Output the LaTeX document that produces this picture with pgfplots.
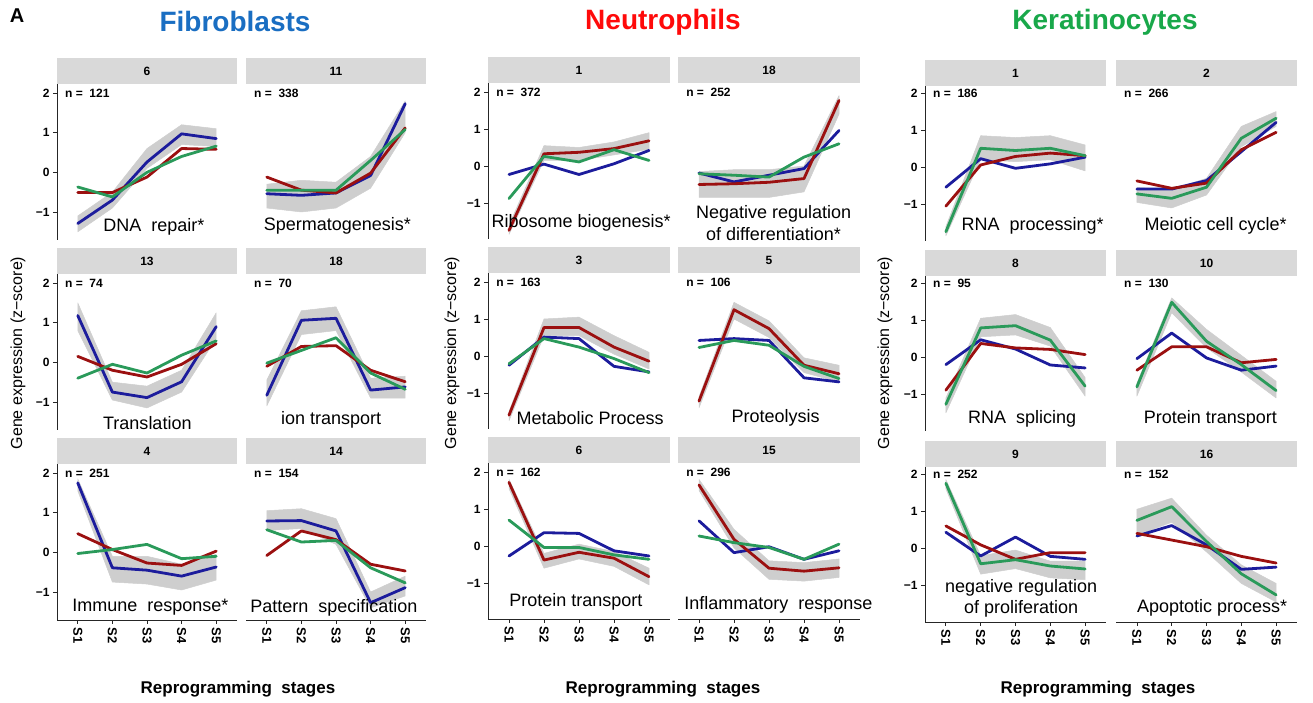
\documentclass[border=0pt]{standalone}
\usepackage{fontspec}
\setmainfont{Liberation Sans}
\usepackage{pgfplots}
\pgfplotsset{compat=1.18}

\definecolor{linblue}{HTML}{1C1C9C}
\definecolor{linred}{HTML}{9B1010}
\definecolor{lingreen}{HTML}{2A9A5A}
\definecolor{bandgray}{HTML}{CECECE}
\definecolor{stripgray}{HTML}{D9D9D9}
\definecolor{fibblue}{HTML}{1A6EC2}
\definecolor{neured}{HTML}{FF0A0A}
\definecolor{kergreen}{HTML}{19A84A}

\newcommand{\fs}[1]{\fontsize{#1}{#1}\selectfont}
% strip header and n label, drawn inside each panel
\newcommand{\strip}[1]{%
  \fill[stripgray] (rel axis cs:0,1) rectangle ([yshift=26pt]rel axis cs:1,1);
  \node[font=\bfseries\fs{12}] at ([yshift=13pt]rel axis cs:0.5,1) {#1};}
\newcommand{\nlab}[1]{%
  \node[anchor=west, inner sep=0pt, font=\bfseries\fs{12}] at (axis cs:0.63,2) {n =\ \ #1};}

\tikzset{desc/.style={font=\fs{18}, align=center}}

\pgfplotsset{
  panel/.style={
    scale only axis, height=156pt,
    xmin=0.4, xmax=5.6, clip=false,
    axis x line*=bottom, axis y line*=left,
    axis line style={-, draw=black!85, line width=0.9pt},
    tick align=outside, major tick length=4pt,
    tick style={draw=black!85, line width=0.8pt},
    xtick={1,2,3,4,5}, xticklabels={S1,S2,S3,S4,S5},
    ytick={-1,0,1,2}, yticklabels={−1,0,1,2},
    xticklabel style={rotate=-90, anchor=west, font=\bfseries\fs{13}},
    yticklabel style={font=\bfseries\fs{12}},
    every axis plot/.append style={line join=round, line cap=round},
  },
  noy/.style={y axis line style={draw=none}, ytick=\empty},
  nox/.style={x axis line style={draw=none}, xtick=\empty},
  gA/.style={panel, width=180pt, ymin=-1.706, ymax=2.227},
  gB/.style={panel, width=182pt, ymin=-1.973, ymax=2.243},
  gC/.style={panel, width=181pt, height=155pt, ymin=-1.99, ymax=2.19},
  bl/.style={draw=linblue, line width=2.8pt},
  rd/.style={draw=linred, line width=2.8pt},
  gr/.style={draw=lingreen, line width=2.8pt},
  bnd/.style={fill=bandgray, draw=bandgray, line width=0.5pt},
}

\begin{document}
\begin{tikzpicture}

% ---------------- Fibroblasts ----------------
\begin{axis}[gA, nox, at={(57pt,463pt)}, anchor=south west]
\addplot[bnd] coordinates {(1,-1.5)(2,-0.9)(3,0.1)(4,0.7)(5,0.65)(5,1.1)(4,1.2)(3,0.6)(2,-0.5)(1,-1.1)} -- cycle;
\addplot[bl] coordinates {(1,-1.29)(2,-0.70)(3,0.26)(4,0.97)(5,0.85)};
\addplot[rd] coordinates {(1,-0.51)(2,-0.51)(3,-0.12)(4,0.60)(5,0.58)};
\addplot[gr] coordinates {(1,-0.37)(2,-0.62)(3,0.0)(4,0.40)(5,0.66)};
\strip{6}\nlab{121}
\node[desc] at (axis cs:3.2,-1.38) {DNA\ \ repair*};
\end{axis}

\begin{axis}[gA, nox, noy, at={(246pt,463pt)}, anchor=south west]
\addplot[bnd] coordinates {(1,-0.9)(2,-1.0)(3,-0.9)(4,-0.4)(5,1.0)(5,1.8)(4,0.4)(3,-0.25)(2,-0.2)(1,-0.3)} -- cycle;
\addplot[bl] coordinates {(1,-0.54)(2,-0.58)(3,-0.52)(4,-0.08)(5,1.73)};
\addplot[rd] coordinates {(1,-0.12)(2,-0.45)(3,-0.52)(4,-0.02)(5,1.12)};
\addplot[gr] coordinates {(1,-0.45)(2,-0.45)(3,-0.45)(4,0.30)(5,1.08)};
\strip{11}\nlab{338}
\node[desc] at (axis cs:3.04,-1.35) {Spermatogenesis*};
\end{axis}

\begin{axis}[gA, nox, at={(57pt,273pt)}, anchor=south west]
\addplot[bnd] coordinates {(1,0.8)(2,-0.95)(3,-1.15)(4,-0.75)(5,0.6)(5,1.25)(4,-0.2)(3,-0.6)(2,-0.5)(1,1.5)} -- cycle;
\addplot[bl] coordinates {(1,1.18)(2,-0.75)(3,-0.89)(4,-0.49)(5,0.90)};
\addplot[rd] coordinates {(1,0.15)(2,-0.20)(3,-0.37)(4,-0.05)(5,0.47)};
\addplot[gr] coordinates {(1,-0.40)(2,-0.05)(3,-0.27)(4,0.18)(5,0.54)};
\strip{13}\nlab{74}
\node[desc] at (axis cs:3.01,-1.53) {Translation};
\end{axis}

\begin{axis}[gA, nox, noy, at={(246pt,273pt)}, anchor=south west]
\addplot[bnd] coordinates {(1,-1.1)(2,0.7)(3,0.8)(4,-0.9)(5,-0.9)(5,-0.35)(4,-0.4)(3,1.4)(2,1.3)(1,-0.45)} -- cycle;
\addplot[bl] coordinates {(1,-0.83)(2,1.06)(3,1.11)(4,-0.70)(5,-0.62)};
\addplot[rd] coordinates {(1,-0.10)(2,0.40)(3,0.42)(4,-0.20)(5,-0.49)};
\addplot[gr] coordinates {(1,-0.02)(2,0.30)(3,0.62)(4,-0.27)(5,-0.68)};
\strip{18}\nlab{70}
\node[desc] at (axis cs:2.86,-1.44) {ion transport};
\end{axis}

\begin{axis}[gA, at={(57pt,83pt)}, anchor=south west]
\addplot[bnd] coordinates {(1,1.55)(2,-0.75)(3,-0.8)(4,-0.95)(5,-0.7)(5,-0.05)(4,-0.3)(3,-0.1)(2,-0.1)(1,1.85)} -- cycle;
\addplot[bl] coordinates {(1,1.75)(2,-0.39)(3,-0.45)(4,-0.60)(5,-0.37)};
\addplot[rd] coordinates {(1,0.47)(2,0.07)(3,-0.27)(4,-0.33)(5,0.03)};
\addplot[gr] coordinates {(1,-0.03)(2,0.07)(3,0.20)(4,-0.16)(5,-0.10)};
\strip{4}\nlab{251}
\node[desc] at (axis cs:3.1,-1.39) {Immune\ \ response*};
\end{axis}

\begin{axis}[gA, noy, at={(246pt,83pt)}, anchor=south west]
\addplot[bnd] coordinates {(1,0.55)(2,0.6)(3,0.2)(4,-1.4)(5,-1.1)(5,-0.6)(4,-1.0)(3,0.85)(2,1.1)(1,1.05)} -- cycle;
\addplot[bl] coordinates {(1,0.79)(2,0.80)(3,0.54)(4,-1.27)(5,-0.89)};
\addplot[rd] coordinates {(1,-0.08)(2,0.54)(3,0.32)(4,-0.30)(5,-0.47)};
\addplot[gr] coordinates {(1,0.57)(2,0.26)(3,0.30)(4,-0.39)(5,-0.77)};
\strip{14}\nlab{154}
\node[desc] at (axis cs:2.94,-1.39) {Pattern\ \ specification};
\end{axis}

% ---------------- Neutrophils ----------------
\begin{axis}[gB, nox, at={(488pt,464pt)}, anchor=south west]
\addplot[bnd] coordinates {(1,-1.85)(2,0.15)(3,0.15)(4,0.3)(5,0.45)(5,0.9)(4,0.65)(3,0.5)(2,0.55)(1,-1.6)} -- cycle;
\addplot[bl] coordinates {(1,-0.23)(2,0.05)(3,-0.23)(4,0.06)(5,0.42)};
\addplot[rd] coordinates {(1,-1.74)(2,0.33)(3,0.37)(4,0.47)(5,0.68)};
\addplot[gr] coordinates {(1,-0.88)(2,0.26)(3,0.11)(4,0.44)(5,0.15)};
\strip{1}\nlab{372}
\node[desc] at (axis cs:3.06,-1.55) {Ribosome biogenesis*};
\end{axis}

\begin{axis}[gB, nox, noy, at={(678pt,464pt)}, anchor=south west]
\addplot[bnd] coordinates {(1,-0.85)(2,-0.85)(3,-0.85)(4,-0.7)(5,1.4)(5,1.9)(4,0.0)(3,-0.1)(2,-0.1)(1,-0.15)} -- cycle;
\addplot[bl] coordinates {(1,-0.19)(2,-0.43)(3,-0.25)(4,-0.07)(5,0.96)};
\addplot[rd] coordinates {(1,-0.50)(2,-0.48)(3,-0.44)(4,-0.34)(5,1.77)};
\addplot[gr] coordinates {(1,-0.21)(2,-0.25)(3,-0.30)(4,0.24)(5,0.60)};
\strip{18}\nlab{252}
\node[desc, font=\fontsize{18}{21.6}\selectfont] at (axis cs:3.13,-1.55) {Negative regulation\\of differentiation*};
\end{axis}

\begin{axis}[gB, nox, at={(488pt,274pt)}, anchor=south west]
\addplot[bnd] coordinates {(1,-1.75)(2,0.55)(3,0.55)(4,0.05)(5,-0.35)(5,0.1)(4,0.55)(3,1.05)(2,1.0)(1,-1.5)} -- cycle;
\addplot[bl] coordinates {(1,-0.25)(2,0.51)(3,0.47)(4,-0.28)(5,-0.43)};
\addplot[rd] coordinates {(1,-1.60)(2,0.77)(3,0.77)(4,0.24)(5,-0.14)};
\addplot[gr] coordinates {(1,-0.21)(2,0.47)(3,0.24)(4,-0.07)(5,-0.45)};
\strip{3}\nlab{163}
\node[desc] at (axis cs:3.32,-1.68) {Metabolic Process};
\end{axis}

\begin{axis}[gB, nox, noy, at={(678pt,274pt)}, anchor=south west]
\addplot[bnd] coordinates {(1,-1.4)(2,1.0)(3,0.5)(4,-0.45)(5,-0.7)(5,-0.25)(4,-0.05)(3,0.95)(2,1.45)(1,-1.1)} -- cycle;
\addplot[bl] coordinates {(1,0.42)(2,0.47)(3,0.42)(4,-0.59)(5,-0.70)};
\addplot[rd] coordinates {(1,-1.22)(2,1.25)(3,0.74)(4,-0.25)(5,-0.48)};
\addplot[gr] coordinates {(1,0.23)(2,0.42)(3,0.29)(4,-0.28)(5,-0.61)};
\strip{5}\nlab{106}
\node[desc] at (axis cs:3.19,-1.68) {Proteolysis};
\end{axis}

\begin{axis}[gB, at={(488pt,84pt)}, anchor=south west]
\addplot[bnd] coordinates {(1,1.55)(2,-0.6)(3,-0.35)(4,-0.55)(5,-1.05)(5,-0.6)(4,-0.15)(3,0.05)(2,-0.2)(1,1.8)} -- cycle;
\addplot[bl] coordinates {(1,-0.27)(2,0.36)(3,0.34)(4,-0.13)(5,-0.27)};
\addplot[rd] coordinates {(1,1.72)(2,-0.38)(3,-0.17)(4,-0.33)(5,-0.83)};
\addplot[gr] coordinates {(1,0.70)(2,-0.04)(3,-0.04)(4,-0.24)(5,-0.36)};
\strip{6}\nlab{162}
\node[desc] at (axis cs:2.91,-1.51) {Protein transport};
\end{axis}

\begin{axis}[gB, noy, at={(678pt,84pt)}, anchor=south west]
\addplot[bnd] coordinates {(1,1.5)(2,-0.05)(3,-0.9)(4,-0.95)(5,-0.85)(5,-0.35)(4,-0.45)(3,-0.4)(2,0.45)(1,1.8)} -- cycle;
\addplot[bl] coordinates {(1,0.68)(2,-0.18)(3,-0.02)(4,-0.36)(5,-0.13)};
\addplot[rd] coordinates {(1,1.65)(2,0.18)(3,-0.60)(4,-0.68)(5,-0.59)};
\addplot[gr] coordinates {(1,0.27)(2,0.09)(3,-0.04)(4,-0.36)(5,0.05)};
\strip{15}\nlab{296}
\node[desc] at (axis cs:3.27,-1.58) {Inflammatory\ \ response};
\end{axis}

% ---------------- Keratinocytes ----------------
\begin{axis}[gC, nox, at={(925pt,462pt)}, anchor=south west]
\addplot[bnd] coordinates {(1,-1.85)(2,0.2)(3,0.15)(4,0.2)(5,-0.1)(5,0.6)(4,0.85)(3,0.8)(2,0.85)(1,-1.6)} -- cycle;
\addplot[bl] coordinates {(1,-0.54)(2,0.23)(3,-0.03)(4,0.09)(5,0.27)};
\addplot[rd] coordinates {(1,-1.05)(2,0.06)(3,0.29)(4,0.38)(5,0.31)};
\addplot[gr] coordinates {(1,-1.74)(2,0.51)(3,0.45)(4,0.51)(5,0.31)};
\strip{1}\nlab{186}
\node[desc] at (axis cs:3.49,-1.59) {RNA\ \ processing*};
\end{axis}

\begin{axis}[gC, nox, noy, at={(1116pt,462pt)}, anchor=south west]
\addplot[bnd] coordinates {(1,-0.95)(2,-1.1)(3,-0.75)(4,0.55)(5,1.1)(5,1.5)(4,1.1)(3,-0.3)(2,-0.6)(1,-0.55)} -- cycle;
\addplot[bl] coordinates {(1,-0.59)(2,-0.59)(3,-0.36)(4,0.42)(5,1.21)};
\addplot[rd] coordinates {(1,-0.37)(2,-0.57)(3,-0.43)(4,0.47)(5,0.94)};
\addplot[gr] coordinates {(1,-0.72)(2,-0.84)(3,-0.54)(4,0.78)(5,1.32)};
\strip{2}\nlab{266}
\node[desc] at (axis cs:3.26,-1.59) {Meiotic cell cycle*};
\end{axis}

\begin{axis}[gC, nox, at={(925pt,272pt)}, anchor=south west]
\addplot[bnd] coordinates {(1,-1.5)(2,0.55)(3,0.6)(4,0.3)(5,-1.05)(5,-0.55)(4,0.8)(3,1.15)(2,1.05)(1,-1.1)} -- cycle;
\addplot[bl] coordinates {(1,-0.20)(2,0.47)(3,0.22)(4,-0.21)(5,-0.29)};
\addplot[rd] coordinates {(1,-0.89)(2,0.37)(3,0.25)(4,0.21)(5,0.07)};
\addplot[gr] coordinates {(1,-1.27)(2,0.79)(3,0.85)(4,0.46)(5,-0.78)};
\strip{8}\nlab{95}
\node[desc] at (axis cs:3.19,-1.67) {RNA\ \ splicing};
\end{axis}

\begin{axis}[gC, nox, noy, at={(1116pt,272pt)}, anchor=south west]
\addplot[bnd] coordinates {(1,-1.05)(2,1.2)(3,0.25)(4,-0.4)(5,-1.1)(5,-0.65)(4,0.05)(3,0.75)(2,1.6)(1,-0.7)} -- cycle;
\addplot[bl] coordinates {(1,-0.04)(2,0.65)(3,-0.02)(4,-0.35)(5,-0.24)};
\addplot[rd] coordinates {(1,-0.35)(2,0.28)(3,0.28)(4,-0.15)(5,-0.06)};
\addplot[gr] coordinates {(1,-0.80)(2,1.48)(3,0.43)(4,-0.20)(5,-0.90)};
\strip{10}\nlab{130}
\node[desc] at (axis cs:3.11,-1.67) {Protein transport};
\end{axis}

\begin{axis}[gC, at={(925pt,81pt)}, anchor=south west]
\addplot[bnd] coordinates {(1,1.6)(2,-0.7)(3,-0.55)(4,-0.8)(5,-0.85)(5,-0.35)(4,-0.35)(3,-0.05)(2,-0.2)(1,1.85)} -- cycle;
\addplot[bl] coordinates {(1,0.43)(2,-0.21)(3,0.30)(4,-0.22)(5,-0.30)};
\addplot[rd] coordinates {(1,0.60)(2,0.09)(3,-0.30)(4,-0.12)(5,-0.12)};
\addplot[gr] coordinates {(1,1.75)(2,-0.42)(3,-0.31)(4,-0.48)(5,-0.56)};
\strip{9}\nlab{252}
\node[desc, font=\fontsize{18}{21.6}\selectfont] at (axis cs:3.16,-1.35) {negative regulation\\of proliferation};
\end{axis}

\begin{axis}[gC, noy, at={(1116pt,81pt)}, anchor=south west]
\addplot[bnd] coordinates {(1,0.35)(2,0.7)(3,-0.1)(4,-0.95)(5,-1.45)(5,-0.95)(4,-0.45)(3,0.35)(2,1.35)(1,1.05)} -- cycle;
\addplot[bl] coordinates {(1,0.33)(2,0.61)(3,0.09)(4,-0.57)(5,-0.51)};
\addplot[rd] coordinates {(1,0.40)(2,0.22)(3,0.04)(4,-0.22)(5,-0.40)};
\addplot[gr] coordinates {(1,0.75)(2,1.12)(3,0.18)(4,-0.69)(5,-1.26)};
\strip{16}\nlab{152}
\node[desc] at (axis cs:3.16,-1.6) {Apoptotic process*};
\end{axis}

% ---------------- titles and shared labels ----------------
\node[font=\bfseries\fs{20}] at (17pt,687pt) {A};
\node[font=\bfseries\fs{28}, text=fibblue] at (235pt,681pt) {Fibroblasts};
\node[font=\bfseries\fs{28}, text=neured] at (663pt,681pt) {Neutrophils};
\node[font=\bfseries\fs{28}, text=kergreen] at (1105pt,681pt) {Keratinocytes};
\node[rotate=90, font=\fs{16}] at (18pt,350pt) {Gene expression (z−score)};
\node[rotate=90, font=\fs{16}] at (452pt,350pt) {Gene expression (z−score)};
\node[rotate=90, font=\fs{16}] at (885pt,350pt) {Gene expression (z−score)};
\node[font=\bfseries\fs{17}] at (238pt,14pt) {Reprogramming\ \ stages};
\node[font=\bfseries\fs{17}] at (663pt,14pt) {Reprogramming\ \ stages};
\node[font=\bfseries\fs{17}] at (1098pt,14pt) {Reprogramming\ \ stages};

\pgfresetboundingbox
\useasboundingbox (0,0) rectangle (1313pt,703pt);
\end{tikzpicture}
\end{document}
